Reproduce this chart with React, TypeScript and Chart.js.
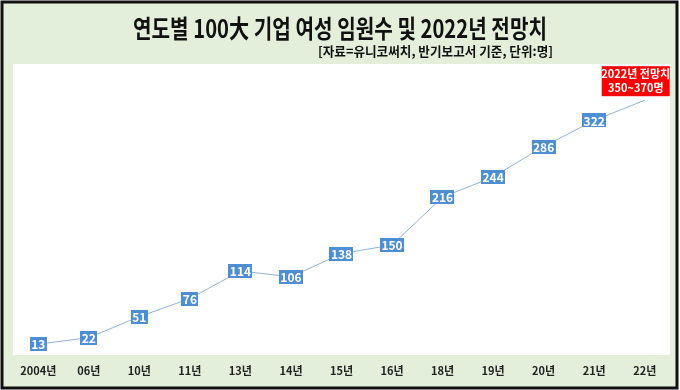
import React, { useEffect, useRef } from "react";
import { Chart, registerables } from "chart.js";

Chart.register(...registerables);

const categories = ["2004년", "06년", "10년", "11년", "13년", "14년", "15년", "16년", "18년", "19년", "20년", "21년", "22년"];
const values = [13, 22, 51, 76, 114, 106, 138, 150, 216, 244, 286, 322, 350];
const valueLabels = ["13", "22", "51", "76", "114", "106", "138", "150", "216", "244", "286", "322", ""];
const titleText = "연도별 100大 기업 여성 임원수 및 2022년 전망치";
const subtitleText = "[자료=유니코써치, 반기보고서 기준, 단위:명]";
const calloutLines = ["2022년 전망치", "350~370명"];

const FONT = '"Noto Sans CJK KR", "Noto Sans", sans-serif';

function fitText(ctx: CanvasRenderingContext2D, text: string, x: number, y: number, targetW: number) {
  const w = ctx.measureText(text).width;
  const s = Math.min(1, targetW / w);
  ctx.save();
  ctx.translate(x, y);
  ctx.scale(s, 1);
  ctx.fillText(text, 0, 0);
  ctx.restore();
}

export default function App() {
  const ref = useRef<HTMLCanvasElement | null>(null);

  useEffect(() => {
    const canvas = ref.current;
    if (!canvas) return;

    const decor = {
      id: "decor",
      beforeDraw(chart: any) {
        const ctx = chart.ctx;
        const a = chart.chartArea;
        ctx.save();
        ctx.fillStyle = "#ffffff";
        ctx.fillRect(0, 0, chart.width, chart.height);
        ctx.fillStyle = "#e3efdb";
        ctx.fillRect(2, 2, 675, 386);
        ctx.fillStyle = "#ffffff";
        ctx.fillRect(a.left, a.top, a.right - a.left, a.bottom - a.top);
        ctx.strokeStyle = "#111111";
        ctx.lineWidth = 3;
        ctx.strokeRect(2, 2, 675, 386);
        // title
        ctx.fillStyle = "#111111";
        ctx.textAlign = "center";
        ctx.textBaseline = "middle";
        ctx.font = `bold 25px ${FONT}`;
        fitText(ctx, titleText, 340, 28, 414);
        ctx.textAlign = "right";
        ctx.font = `bold 13px ${FONT}`;
        fitText(ctx, subtitleText, 553, 51, 235);
        ctx.restore();
      },
      afterDatasetsDraw(chart: any) {
        const ctx = chart.ctx;
        const meta = chart.getDatasetMeta(0);
        ctx.save();
        ctx.font = `bold 12px ${FONT}`;
        ctx.textAlign = "center";
        ctx.textBaseline = "middle";
        meta.data.forEach((pt: any, i: number) => {
          const txt = valueLabels[i];
          if (!txt) return;
          const w = Math.max(14, ctx.measureText(txt).width + 3);
          const h = 14;
          ctx.fillStyle = "#4e8ed3";
          ctx.fillRect(Math.round(pt.x - w / 2), Math.round(pt.y - h / 2), Math.round(w), h);
          ctx.fillStyle = "#ffffff";
          ctx.fillText(txt, pt.x, pt.y + 0.5);
        });
        // callout for last point
        const last = meta.data[meta.data.length - 1];
        if (last) {
          const bw = 68;
          const bh = 30;
          const bx = last.x - 43;
          const by = last.y - 4 - bh;
          ctx.fillStyle = "#ff0000";
          ctx.fillRect(bx, by, bw, bh);
          ctx.fillStyle = "#ffffff";
          ctx.font = `bold 11px ${FONT}`;
          ctx.fillText(calloutLines[0], bx + bw / 2, by + 8);
          ctx.fillText(calloutLines[1], bx + bw / 2, by + 22);
        }
        ctx.restore();
      },
    };

    const chart = new Chart(canvas, {
      type: "line",
      data: {
        labels: categories,
        datasets: [
          {
            data: values,
            borderColor: "#93b3d8",
            borderWidth: 1,
            pointRadius: 0,
            tension: 0,
            fill: false,
          },
        ],
      },
      options: {
        responsive: false,
        animation: false,
        layout: { padding: { top: 64, left: 13, right: 10, bottom: 0 } },
        plugins: {
          legend: { display: false },
          title: { display: false },
          tooltip: { enabled: false },
        },
        scales: {
          x: {
            offset: true,
            grid: { display: false, drawTicks: false },
            border: { display: false },
            ticks: {
              color: "#222222",
              font: { family: FONT, size: 11, weight: "bold" },
              padding: 9,
              maxRotation: 0,
              autoSkip: false,
            },
            afterFit: (scale: any) => {
              scale.height = 35;
            },
          },
          y: {
            display: false,
            min: -2,
            max: 400,
          },
        },
      },
      plugins: [decor],
    });

    return () => chart.destroy();
  }, []);

  return (
    <div style={{ position: "absolute", left: 0, top: 0, width: 680, height: 390 }}>
      <canvas ref={ref} width={680} height={390} />
    </div>
  );
}
